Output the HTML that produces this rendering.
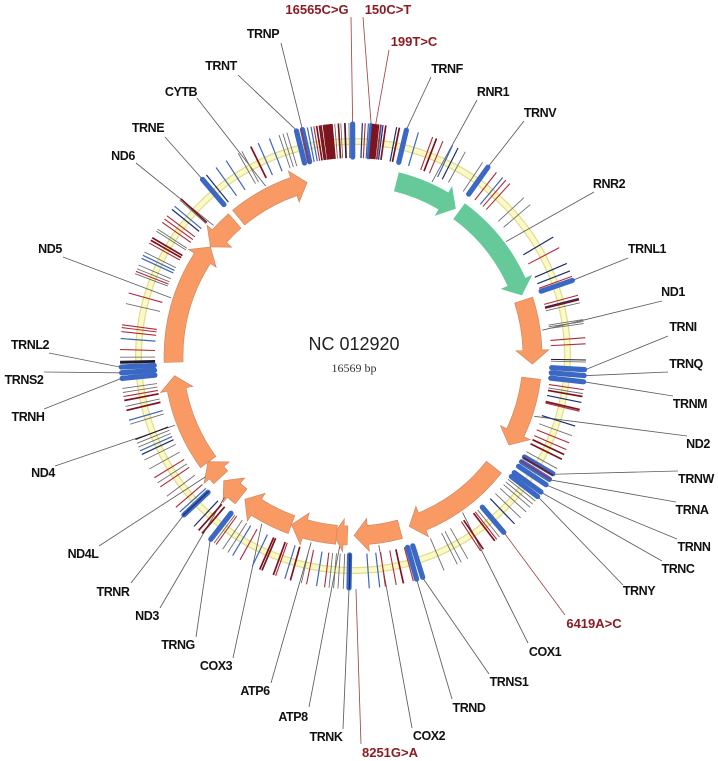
<!DOCTYPE html>
<html lang="en">
<head>
<meta charset="utf-8">
<title>NC 012920 circular map</title>
<style>
html,body{margin:0;padding:0;background:#fff;width:718px;height:761px;overflow:hidden}
svg{display:block}
.lab{font-family:"Liberation Sans",sans-serif;font-size:12.5px;font-weight:bold;letter-spacing:-.45px;fill:#111;text-anchor:middle}
.var{font-family:"Liberation Sans",sans-serif;font-size:13px;font-weight:bold;fill:#8a1c24;text-anchor:middle}
</style>
</head>
<body>
<svg id="map" xmlns="http://www.w3.org/2000/svg" width="718" height="761" viewBox="0 0 718 761">
  <g id="ring">
    <circle cx="353" cy="356" r="214.5" fill="none" stroke="#e0dc8e" stroke-width="7"/>
    <circle cx="353" cy="356" r="214.5" fill="none" stroke="#fbfac6" stroke-width="4.6"/>
  </g>
  <g id="arrows"></g>
  <g id="leaders"></g>
  <g id="thick"></g>
  <g id="ticks"></g>
  <g id="labels">
    <text class="var" data-pos="16565" data-r="233" data-lx="351" data-ly="17" x="317" y="14">16565C&gt;G</text>
    <text class="var" data-pos="205" data-r="233" data-lx="363" data-ly="17" x="388" y="14">150C&gt;T</text>
    <text class="var" data-pos="258" data-r="233" data-lx="389" data-ly="50" x="414" y="46">199T&gt;C</text>
    <text class="lab" data-pos="612" data-r="233" data-lx="431" data-ly="77" x="447" y="73">TRNF</text>
    <text class="lab" data-pos="1124" data-r="191" data-lx="477" data-ly="100" x="493" y="96">RNR1</text>
    <text class="lab" data-pos="1636" data-r="233" data-lx="524" data-ly="121" x="540" y="117">TRNV</text>
    <text class="lab" data-pos="2450" data-r="191" data-lx="594" data-ly="192" x="609" y="188">RNR2</text>
    <text class="lab" data-pos="3267" data-r="233" data-lx="628" data-ly="258" x="647" y="253">TRNL1</text>
    <text class="lab" data-pos="3785" data-r="191" data-lx="662" data-ly="301" x="673" y="296">ND1</text>
    <text class="lab" data-pos="4297" data-r="233" data-lx="668" data-ly="336" x="683" y="331">TRNI</text>
    <text class="lab" data-pos="4365" data-r="233" data-lx="668" data-ly="372" x="686" y="368">TRNQ</text>
    <text class="lab" data-pos="4436" data-r="233" data-lx="673" data-ly="396" x="690" y="408">TRNM</text>
    <text class="lab" data-pos="4990" data-r="191" data-lx="687" data-ly="436" x="698" y="448">ND2</text>
    <text class="lab" data-pos="5546" data-r="233" data-lx="678" data-ly="471" x="696" y="483">TRNW</text>
    <text class="lab" data-pos="5621" data-r="233" data-lx="676" data-ly="502" x="692" y="514">TRNA</text>
    <text class="lab" data-pos="5693" data-r="233" data-lx="677" data-ly="539" x="694" y="551">TRNN</text>
    <text class="lab" data-pos="5794" data-r="233" data-lx="662" data-ly="561" x="678" y="573">TRNC</text>
    <text class="lab" data-pos="5858" data-r="233" data-lx="623" data-ly="585" x="639" y="595">TRNY</text>
    <text class="var" data-pos="6419" data-r="233" data-lx="565" data-ly="615" x="594" y="628">6419A&gt;C</text>
    <text class="lab" data-pos="6674" data-r="191" data-lx="528" data-ly="643" x="545" y="656">COX1</text>
    <text class="lab" data-pos="7480" data-r="233" data-lx="489" data-ly="674" x="509" y="686">TRNS1</text>
    <text class="lab" data-pos="7552" data-r="233" data-lx="452" data-ly="699" x="469" y="712">TRND</text>
    <text class="lab" data-pos="7927" data-r="191" data-lx="412" data-ly="728" x="429" y="740">COX2</text>
    <text class="var" data-pos="8251" data-r="233" data-lx="361" data-ly="744" x="390" y="757">8251G&gt;A</text>
    <text class="lab" data-pos="8330" data-r="233" data-lx="343" data-ly="729" x="326" y="741">TRNK</text>
    <text class="lab" data-pos="8469" data-r="191" data-lx="309" data-ly="707" x="293" y="721">ATP8</text>
    <text class="lab" data-pos="8867" data-r="191" data-lx="271" data-ly="683" x="255" y="695">ATP6</text>
    <text class="lab" data-pos="9598" data-r="191" data-lx="233" data-ly="658" x="216" y="670">COX3</text>
    <text class="lab" data-pos="10024" data-r="233" data-lx="196" data-ly="637" x="178" y="649">TRNG</text>
    <text class="lab" data-pos="10231" data-r="191" data-lx="160" data-ly="608" x="147" y="620">ND3</text>
    <text class="lab" data-pos="10437" data-r="233" data-lx="131" data-ly="583" x="113" y="596">TRNR</text>
    <text class="lab" data-pos="10618" data-r="191" data-lx="99" data-ly="546" x="83" y="558">ND4L</text>
    <text class="lab" data-pos="11448" data-r="191" data-lx="55" data-ly="466" x="43" y="477">ND4</text>
    <text class="lab" data-pos="12172" data-r="233" data-lx="44" data-ly="409" x="28" y="421">TRNH</text>
    <text class="lab" data-pos="12236" data-r="233" data-lx="44" data-ly="372" x="24" y="384">TRNS2</text>
    <text class="lab" data-pos="12301" data-r="233" data-lx="49" data-ly="353" x="30" y="349">TRNL2</text>
    <text class="lab" data-pos="13242" data-r="191" data-lx="63" data-ly="257" x="50" y="253">ND5</text>
    <text class="lab" data-pos="14411" data-r="191" data-lx="136" data-ly="163" x="123" y="160">ND6</text>
    <text class="lab" data-pos="14708" data-r="233" data-lx="165" data-ly="137" x="148" y="132">TRNE</text>
    <text class="lab" data-pos="15317" data-r="191" data-lx="197" data-ly="98" x="181" y="96">CYTB</text>
    <text class="lab" data-pos="15920" data-r="233" data-lx="238" data-ly="75" x="221" y="70">TRNT</text>
    <text class="lab" data-pos="15990" data-r="233" data-lx="281" data-ly="43" x="263" y="38">TRNP</text>
  </g>
  <text x="354" y="350" text-anchor="middle" font-family="'Liberation Sans',sans-serif" font-size="18" fill="#222">NC 012920</text>
  <text x="354" y="372" text-anchor="middle" font-family="'Liberation Serif',serif" font-size="12" fill="#333">16569 bp</text>
</svg>
<script>
const genomeLength = 16569;
const geneNames = ["RNR1","RNR2","ND1","ND2","COX1","COX2","ATP8","ATP6","COX3","ND3","ND4L","ND4","ND5","ND6","CYTB"];
const geneStarts = [648,1671,3307,4470,5904,7586,8366,8527,9207,10059,10470,10760,12337,14673,14747];
const geneEnds = [1601,3229,4262,5511,7445,8269,8572,9207,9990,10404,10766,12137,14148,14149,15887];
const rnaGenes = ["RNR1","RNR2"];
const featureBars = [612,1636,3267,4297,4365,4436,5546,5621,5693,5794,5858,6419,7480,7552,8330,10024,10437,12172,12236,12301,14708,15920,15990,16565,205];
const redTicks = [16123,138,313,920,1045,1749,1887,1947,2867,3222,3447,3935,4004,4524,4773,5150,5233,5615,6531,6756,7594,7792,7916,8607,8814,9177,9619,9941,10563,10853,10977,11966,12500,12703,12749,12781,13149,13407,13761,14038,14084,14130,15975];
const darkRedTicks = [16155,16187,16205,16233,16250,16265,16280,16297,16313,16329,16403,16477,225,239,255,272,290,373,529,967,3498,4603,4754,5293,5353,5560,6559,6720,7709,9002,9205,9343,9371,10144,10195,11805,11920,13798,13831,14378,15372];
const navyTicks = [106,341,497,1233,2729,3065,3157,3484,4671,4948,6264,10264,11276,14222,14774,8325,10440];
const blueTicks = [16049,16091,175,322,750,1164,1841,7981,8100,8699,9067,9463,9716,10494,11322,11690,12625,13568,13605,14268,14912,15050,15464,15602];
const grayTicks = [16362,16431,16523,1326,1556,2172,2278,3535,3728,3751,3774,4211,4570,5063,5472,5914,5960,6006,6075,6167,6490,6927,7010,7060,7226,8395,8455,8505,8556,8874,9780,9849,9969,10724,10908,11092,11207,11368,11414,11460,11644,11851,12012,12058,12413,13025,13379,13439,13485,13646,13918,13945,14360,15211,15257,15717,15763,15810];
const blackTicks = [4188,12344,12367,12350,12358,11460,16477];

const NS = "http://www.w3.org/2000/svg";
const centerX = 353, centerY = 356;
function angleOf(bp){ return bp / genomeLength * 2 * Math.PI; }
function px(bp, r){ return centerX + r * Math.sin(angleOf(bp)); }
function py(bp, r){ return centerY - r * Math.cos(angleOf(bp)); }
function pt(bp, r){ return px(bp, r).toFixed(2) + " " + py(bp, r).toFixed(2); }

function radial(parent, bp, r0, r1, color, width){
  const l = document.createElementNS(NS, "line");
  l.setAttribute("x1", px(bp, r0));
  l.setAttribute("y1", py(bp, r0));
  l.setAttribute("x2", px(bp, r1));
  l.setAttribute("y2", py(bp, r1));
  l.setAttribute("stroke", color);
  l.setAttribute("stroke-width", width);
  parent.appendChild(l);
  return l;
}

const thickGroup = document.getElementById("thick");
featureBars.forEach(function(bp){
  const bar = radial(thickGroup, bp, 199, 232, "#3a68c4", bp === 205 ? 3.4 : 5.2);
  bar.setAttribute("stroke-linecap", "round");
  
  
});

const tickGroup = document.getElementById("ticks");
function drawTicks(values, color, width){
  values.forEach(function(bp){
    const t = radial(tickGroup, bp, 198, 233, color, width);
    
    
  });
}
drawTicks(grayTicks, "#6e6e6e", 0.9);
drawTicks(blueTicks, "#3f66ba", 1.2);
drawTicks(navyTicks, "#1d2c72", 1.2);
drawTicks(redTicks, "#b02a38", 1.1);
drawTicks(darkRedTicks, "#7c1420", 1.7);
drawTicks(blackTicks, "#221a2a", 1);

const arrowGroup = document.getElementById("arrows");
const shaftIn = 170, shaftOut = 189, headIn = 163, headOut = 196, headBp = 205;
geneNames.forEach(function(name, i){
  const s = geneStarts[i], e = geneEnds[i];
  const dir = e >= s ? 1 : -1;
  const span = Math.abs(e - s);
  const hl = Math.min(headBp, span * 0.72);
  const base = e - dir * hl;
  const sweepFwd = dir > 0 ? 1 : 0;
  const sweepBack = dir > 0 ? 0 : 1;
  const d = "M" + pt(s, shaftOut) +
    " A" + shaftOut + " " + shaftOut + " 0 0 " + sweepFwd + " " + pt(base, shaftOut) +
    " L" + pt(base, headOut) +
    " L" + pt(e, (shaftIn + shaftOut) / 2) +
    " L" + pt(base, headIn) +
    " L" + pt(base, shaftIn) +
    " A" + shaftIn + " " + shaftIn + " 0 0 " + sweepBack + " " + pt(s, shaftIn) + " Z";
  const p = document.createElementNS(NS, "path");
  p.setAttribute("d", d);
  const isRna = rnaGenes.indexOf(name) >= 0;
  p.setAttribute("fill", isRna ? "#66c99a" : "#f99a64");
  p.setAttribute("stroke", isRna ? "#66c99a" : "#c98560");
  p.setAttribute("stroke-width", "0.6");
  
  
  arrowGroup.appendChild(p);
});

const leaderGroup = document.getElementById("leaders");
document.querySelectorAll("#labels text").forEach(function(t){
  const bp = +t.getAttribute("data-pos");
  const r = +t.getAttribute("data-r");
  const l = document.createElementNS(NS, "line");
  l.setAttribute("x1", t.getAttribute("data-lx"));
  l.setAttribute("y1", t.getAttribute("data-ly"));
  l.setAttribute("x2", px(bp, r));
  l.setAttribute("y2", py(bp, r));
  l.setAttribute("stroke", t.classList.contains("var") ? "#a2474c" : "#5c5c5c");
  l.setAttribute("stroke-width", "0.85");
  
  
  leaderGroup.appendChild(l);
});
</script>
</body>
</html>
